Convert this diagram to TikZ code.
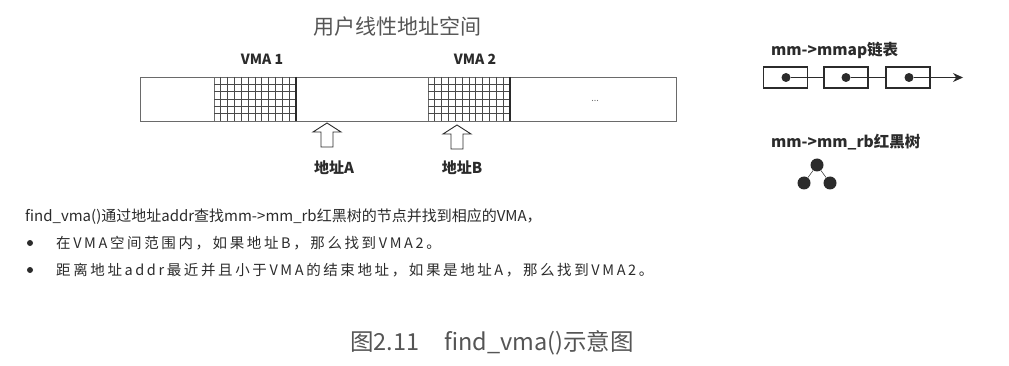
\documentclass[tikz,border=0pt]{standalone}
\usepackage{fontspec}
\setmainfont{Noto Sans CJK SC}
\newfontfamily\cjk{Noto Sans CJK SC}
\newfontfamily\cjkspaced[LetterSpace=18]{Noto Sans CJK SC}
\usetikzlibrary{arrows.meta}
\definecolor{ink}{HTML}{2B2B2B}
\definecolor{gridgray}{HTML}{4A4A4A}
\definecolor{linegray}{HTML}{6A6A6A}
\definecolor{titlegray}{HTML}{555555}
\begin{document}
\begin{tikzpicture}[x=1pt,y=-1pt,font=\cjk,
  bartitle/.style={text=titlegray,font=\cjk\fontsize{21}{24}\selectfont},
  vmalabel/.style={text=ink,font=\cjk\bfseries\fontsize{14}{16}\selectfont},
  addrlabel/.style={text=ink,font=\cjk\bfseries\fontsize{15}{17}\selectfont},
  listlabel/.style={text=ink,font=\cjk\bfseries\fontsize{15.5}{18}\selectfont,anchor=west,inner sep=0pt},
  bodytext/.style={text=ink,font=\cjk\fontsize{15}{18}\selectfont,anchor=west,inner sep=0pt},
  bullettext/.style={text=ink,font=\cjkspaced\fontsize{14.5}{17}\selectfont,anchor=west,inner sep=0pt},
  caption/.style={text=titlegray,font=\cjk\fontsize{23.5}{26}\selectfont},
  barbox/.style={draw=linegray,line width=0.9pt,inner sep=0pt,anchor=north west},
  cellline/.style={draw=gridgray,line width=0.7pt},
  hollowarrow/.style={draw=ink,line width=0.9pt,fill=white},
  listbox/.style={draw=ink,line width=1.1pt,minimum width=44pt,minimum height=21pt,inner sep=0pt},
  listdot/.style={circle,fill=ink,inner sep=0pt,minimum size=9pt},
  listlink/.style={draw=ink,line width=1.1pt},
  treenode/.style={circle,fill=ink,inner sep=0pt,minimum size=13pt},
  treeedge/.style={draw=ink,line width=0.5pt},
]
\useasboundingbox (0,0) rectangle (1009,366);

% linear address space
\node[bartitle] (title) at (397,27) {用户线性地址空间};
\node[barbox,minimum width=536pt,minimum height=44pt] (bar) at (140,77) {};

% VMA areas drawn as grids
\foreach \vx/\vn in {214/1,428/2}{
  \node[barbox,minimum width=82pt,minimum height=44pt] (vma\vn) at (\vx,77) {};
  \foreach \i in {1,...,11}
    \draw[cellline] ({\vx+\i*82/12},77) -- ({\vx+\i*82/12},121);
  \foreach \j in {1,...,5}
    \draw[cellline] (\vx,{77+\j*44/6}) -- ({\vx+82},{77+\j*44/6});
  \draw[draw=ink,line width=1.6pt] ({\vx+82},77) -- ({\vx+82},121);
}
\node[vmalabel] (lvma1) at (262,59) {VMA 1};
\node[vmalabel] (lvma2) at (475,59) {VMA 2};
\node[text=linegray,font=\fontsize{9}{10}\selectfont] (dots) at (595,101) {...};

% hollow arrows pointing at the bar
\foreach \ax/\ay/\an in {327/123/A,457/125/B}{
  \draw[hollowarrow] (\ax,\ay) -- ++(14,9) -- ++(-8,0) -- ++(0,15) -- ++(-12,0)
    -- ++(0,-15) -- ++(-8,0) -- cycle;
  \coordinate (arr\an) at (\ax,\ay);
}
\node[addrlabel] (addrA) at (334,168) {地址A};
\node[addrlabel] (addrB) at (462,168) {地址B};

% mmap list
\node[listlabel] (listtitle) at (771,50) {mm->mmap链表};
\node[listbox] (b1) at (785.5,77.5) {};
\node[listbox] (b2) at (846,77.5) {};
\node[listbox] (b3) at (908,77.5) {};
\node[listdot] (d1) at (786,77.5) {};
\node[listdot] (d2) at (846,77.5) {};
\node[listdot] (d3) at (909,77.5) {};
\coordinate (listend) at (963,77.5);
\draw[listlink] (d1) -- (b2.west);
\draw[listlink] (d2) -- (b3.west);
\draw[listlink,-{Stealth[length=10pt,width=9pt]}] (d3) -- (listend);

% rb tree
\node[listlabel] (treetitle) at (771,142) {mm->mm\_rb红黑树};
\node[treenode] (t0) at (817,165) {};
\node[treenode] (t1) at (804,183) {};
\node[treenode] (t2) at (830,183) {};
\draw[treeedge] (t0) -- (t1);
\draw[treeedge] (t0) -- (t2);

% description
\node[bodytext] (desc) at (25,217) {find\_vma()通过地址addr查找mm->mm\_rb红黑树的节点并找到相应的VMA，};
\fill[ink] (30,243) circle (3pt);
\fill[ink] (30,270) circle (3pt);
\node[bullettext] (item1) at (56,243) {在VMA空间范围内，如果地址B，那么找到VMA2。};
\node[bullettext] (item2) at (56,270) {距离地址addr最近并且小于VMA的结束地址，如果是地址A，那么找到VMA2。};

% caption
\node[caption] (cap) at (492,343) {图2.11\hspace{1.05em}find\_vma()示意图};
\end{tikzpicture}
\end{document}
